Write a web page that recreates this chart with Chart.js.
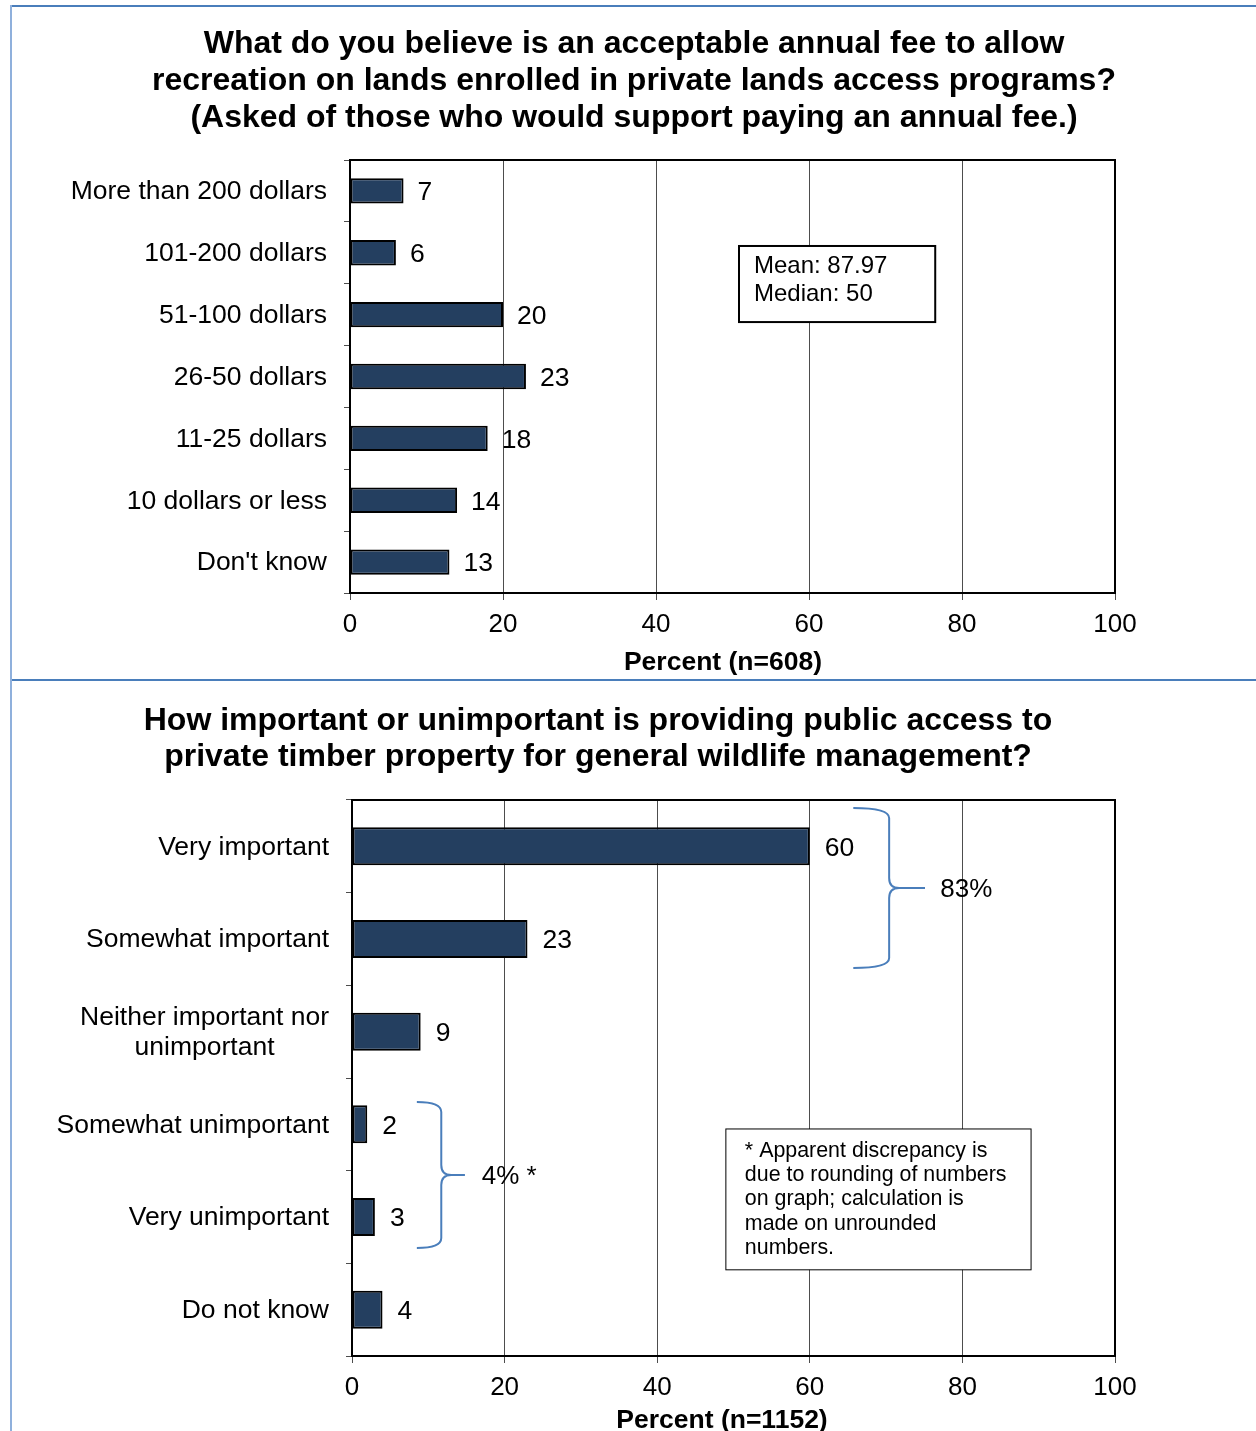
<!DOCTYPE html>
<html>
<head>
<meta charset="utf-8">
<title>Private lands access survey</title>
<script src="https://cdn.jsdelivr.net/npm/chart.js@4.4.1/dist/chart.umd.min.js"></script>
<style>
  html, body { margin: 0; padding: 0; background: #fff; overflow: hidden; }
  #page { position: relative; width: 1256px; height: 1431px; overflow: hidden; }
  #feeChart { position: absolute; left: 0; top: 0; }
  #accessChart { position: absolute; left: 0; top: 680px; }
  .rule { position: absolute; }
  .rule.top { left: 10px; top: 5px; width: 1246px; height: 2px; background: #4a7ebb; }
  .rule.mid { left: 10px; top: 679px; width: 1246px; height: 2px; background: #4a7ebb; }
  .rule.left { left: 10px; top: 5px; width: 2px; height: 1426px; background: #8fb0dc; }
</style>
</head>
<body>
<div id="page">
  <canvas id="feeChart" width="1256" height="680"></canvas>
  <canvas id="accessChart" width="1256" height="771"></canvas>
  <div class="rule top"></div>
  <div class="rule mid"></div>
  <div class="rule left"></div>
</div>
<script>
// --- data ---
const feeTitle = [
    'What do you believe is an acceptable annual fee to allow',
    'recreation on lands enrolled in private lands access programs?',
    '(Asked of those who would support paying an annual fee.)'
];
const feeLabels = ['More than 200 dollars', '101-200 dollars', '51-100 dollars', '26-50 dollars', '11-25 dollars', '10 dollars or less', "Don't know"];
const feeValues = [7, 6, 20, 23, 18, 14, 13];
const feeAxisTitle = 'Percent (n=608)';
const feeStats = ['Mean: 87.97', 'Median: 50'];

const accessTitle = [
    'How important or unimportant is providing public access to',
    'private timber property for general wildlife management?'
];
const accessLabels = [['Very important'], ['Somewhat important'], ['Neither important nor', 'unimportant'], ['Somewhat unimportant'], ['Very unimportant'], ['Do not know']];
const accessValues = [60, 23, 9, 2, 3, 4];
const accessAxisTitle = 'Percent (n=1152)';
const accessNote = ['* Apparent discrepancy is', 'due to rounding of numbers', 'on graph; calculation is', 'made on unrounded', 'numbers.'];

const percentMin = 0;
const percentMax = 100;
const percentStep = 20;

// --- styling ---
const FONT = "'Liberation Sans', Arial, sans-serif";
const BAR_FILL = '#243f60';
const GRID = '#4d4d4d';
const BRACE = '#4a7ebb';

// Centred text lines (chart heading, axis caption)
function drawLines(ctx, lines, x, y, size, lineHeight, bold) {
    ctx.save();
    ctx.font = `${bold ? 'bold ' : ''}${size}px ${FONT}`;
    ctx.fillStyle = '#000';
    ctx.textAlign = 'center';
    ctx.textBaseline = 'middle';
    lines.forEach((line, i) => ctx.fillText(line, x, y + i * lineHeight));
    ctx.restore();
}

const headline = {
    id: 'headline',
    afterDraw(chart, args, opts) {
        drawLines(chart.ctx, opts.text, opts.x, opts.y, opts.size, opts.lineHeight, true);
        drawLines(chart.ctx, [opts.caption], opts.captionX, opts.captionY, opts.captionSize, 0, true);
    }
};

// Category names: right-aligned block, lines centred inside the block
const categoryLabels = {
    id: 'categoryLabels',
    afterDraw(chart, args, opts) {
        const { ctx, chartArea, scales: { y } } = chart;
        const right = chartArea.left - opts.gap;
        ctx.save();
        ctx.font = `${opts.size}px ${FONT}`;
        ctx.fillStyle = '#000';
        ctx.textAlign = 'center';
        ctx.textBaseline = 'middle';
        chart.data.labels.forEach((label, i) => {
            const lines = [].concat(label);
            const block = Math.max(...lines.map(l => ctx.measureText(l).width));
            const cx = right - block / 2;
            const cy = y.getPixelForValue(i) + 1;
            lines.forEach((line, k) => {
                ctx.fillText(line, cx, cy + (k - (lines.length - 1) / 2) * opts.lineHeight);
            });
        });
        ctx.restore();
    }
};

// Value printed just past the end of each bar
const valueLabels = {
    id: 'valueLabels',
    afterDatasetsDraw(chart, args, opts) {
        const ctx = chart.ctx;
        const meta = chart.getDatasetMeta(0);
        const values = chart.data.datasets[0].data;
        ctx.save();
        ctx.font = `${opts.size}px ${FONT}`;
        ctx.fillStyle = '#000';
        ctx.textAlign = 'left';
        ctx.textBaseline = 'middle';
        meta.data.forEach((bar, i) => ctx.fillText(String(values[i]), bar.x + opts.gap, bar.y + 2));
        ctx.restore();
    }
};

// Black box round the plot area
const plotFrame = {
    id: 'plotFrame',
    afterDraw(chart) {
        const { ctx, chartArea: a } = chart;
        ctx.save();
        ctx.strokeStyle = '#000';
        ctx.lineWidth = 2;
        ctx.strokeRect(a.left, a.top, a.right - a.left, a.bottom - a.top);
        ctx.restore();
    }
};

// y positions given as (fractional) category index, x as percent
function toPx(chart, xv, yv) {
    return [chart.scales.x.getPixelForValue(xv), chart.scales.y.getPixelForValue(yv)];
}

function textBox(chart, box) {
    const ctx = chart.ctx;
    const [x1, y1] = toPx(chart, box.x1, box.y1);
    const [x2, y2] = toPx(chart, box.x2, box.y2);
    ctx.save();
    ctx.fillStyle = '#fff';
    ctx.fillRect(x1, y1, x2 - x1, y2 - y1);
    ctx.strokeStyle = '#000';
    ctx.lineWidth = box.border;
    ctx.strokeRect(x1, y1, x2 - x1, y2 - y1);
    ctx.font = `${box.size}px ${FONT}`;
    ctx.fillStyle = '#000';
    ctx.textAlign = 'left';
    ctx.textBaseline = 'middle';
    box.lines.forEach((line, i) => ctx.fillText(line, x1 + box.padX, y1 + box.firstLine + i * box.lineHeight));
    ctx.restore();
}

function drawBrace(chart, b) {
    const ctx = chart.ctx;
    const [xEnd, yTop] = toPx(chart, b.xEnd, b.yTop);
    const [xSpine, yBottom] = toPx(chart, b.xSpine, b.yBottom);
    const xTip = chart.scales.x.getPixelForValue(b.xTip);
    const yMid = (yTop + yBottom) / 2;
    const r = 10;
    ctx.save();
    ctx.strokeStyle = BRACE;
    ctx.lineWidth = 2;
    ctx.beginPath();
    ctx.moveTo(xEnd, yTop);
    ctx.quadraticCurveTo(xSpine, yTop, xSpine, yTop + r);
    ctx.lineTo(xSpine, yMid - r);
    ctx.quadraticCurveTo(xSpine, yMid, xSpine + r, yMid);
    ctx.lineTo(xTip, yMid);
    ctx.moveTo(xSpine + r, yMid);
    ctx.quadraticCurveTo(xSpine, yMid, xSpine, yMid + r);
    ctx.lineTo(xSpine, yBottom - r);
    ctx.quadraticCurveTo(xSpine, yBottom, xEnd, yBottom);
    ctx.stroke();
    ctx.font = `26px ${FONT}`;
    ctx.fillStyle = '#000';
    ctx.textAlign = 'left';
    ctx.textBaseline = 'middle';
    ctx.fillText(b.text, chart.scales.x.getPixelForValue(b.xText), yMid + 2);
    ctx.restore();
}

const callouts = {
    id: 'callouts',
    afterDraw(chart, args, opts) {
        (opts.boxes || []).forEach(box => textBox(chart, box));
        (opts.braces || []).forEach(b => drawBrace(chart, b));
    }
};

function percentAxis(height) {
    return {
        min: percentMin,
        max: percentMax,
        ticks: { stepSize: percentStep, color: '#000', font: { family: FONT, size: 26 }, padding: 9 },
        grid: { color: GRID, lineWidth: 1, tickLength: 7, tickColor: GRID },
        border: { display: false },
        afterFit: scale => { scale.height = height; }
    };
}

function categoryAxis(width) {
    return {
        grid: { offset: true, drawOnChartArea: false, tickLength: 6, color: GRID },
        ticks: { display: false },
        border: { display: false },
        afterFit: scale => { scale.width = width; }
    };
}

function barDataset(values) {
    return {
        data: values,
        backgroundColor: BAR_FILL,
        borderColor: '#000',
        borderWidth: 2,
        borderSkipped: false,
        barPercentage: 0.41,
        categoryPercentage: 1
    };
}

// Acceptable annual fee
new Chart(document.getElementById('feeChart'), {
    type: 'bar',
    data: { labels: feeLabels, datasets: [barDataset(feeValues)] },
    options: {
        indexAxis: 'y',
        responsive: false,
        animation: false,
        layout: { padding: { left: 0, right: 141, top: 160, bottom: 0 } },
        plugins: {
            legend: { display: false },
            tooltip: { enabled: false },
            headline: {
                text: feeTitle, x: 634, y: 44, size: 32, lineHeight: 37,
                caption: feeAxisTitle, captionX: 723, captionY: 663, captionSize: 26.5
            },
            categoryLabels: { gap: 23, size: 26.5, lineHeight: 30 },
            valueLabels: { gap: 14, size: 26.5 },
            callouts: {
                boxes: [{ x1: 50.85, x2: 76.5, y1: 0.89, y2: 2.12, border: 2, size: 24, padX: 15, firstLine: 20, lineHeight: 28, lines: feeStats }]
            }
        },
        scales: {
            x: percentAxis(87),
            y: categoryAxis(350)
        }
    },
    plugins: [valueLabels, plotFrame, categoryLabels, headline, callouts]
});

// Importance of public access
new Chart(document.getElementById('accessChart'), {
    type: 'bar',
    data: { labels: accessLabels, datasets: [barDataset(accessValues)] },
    options: {
        indexAxis: 'y',
        responsive: false,
        animation: false,
        layout: { padding: { left: 0, right: 141, top: 120, bottom: 0 } },
        plugins: {
            legend: { display: false },
            tooltip: { enabled: false },
            headline: {
                text: accessTitle, x: 598, y: 41, size: 32, lineHeight: 36,
                caption: accessAxisTitle, captionX: 722, captionY: 741, captionSize: 26.5
            },
            categoryLabels: { gap: 23, size: 26.5, lineHeight: 30 },
            valueLabels: { gap: 15, size: 26.5 },
            callouts: {
                boxes: [{ x1: 49.0, x2: 89.0, y1: 3.05, y2: 4.57, border: 1, size: 21.4, padX: 19, firstLine: 22, lineHeight: 24.3, lines: accessNote }],
                braces: [
                    { xEnd: 65.7, xSpine: 70.4, xTip: 75.1, xText: 77.1, yTop: -0.414, yBottom: 1.313, text: '83%' },
                    { xEnd: 8.5, xSpine: 11.7, xTip: 14.8, xText: 17.0, yTop: 2.76, yBottom: 4.334, text: '4% *' }
                ]
            }
        },
        scales: {
            x: percentAxis(95),
            y: categoryAxis(352)
        }
    },
    plugins: [valueLabels, plotFrame, categoryLabels, headline, callouts]
});
</script>
</body>
</html>
